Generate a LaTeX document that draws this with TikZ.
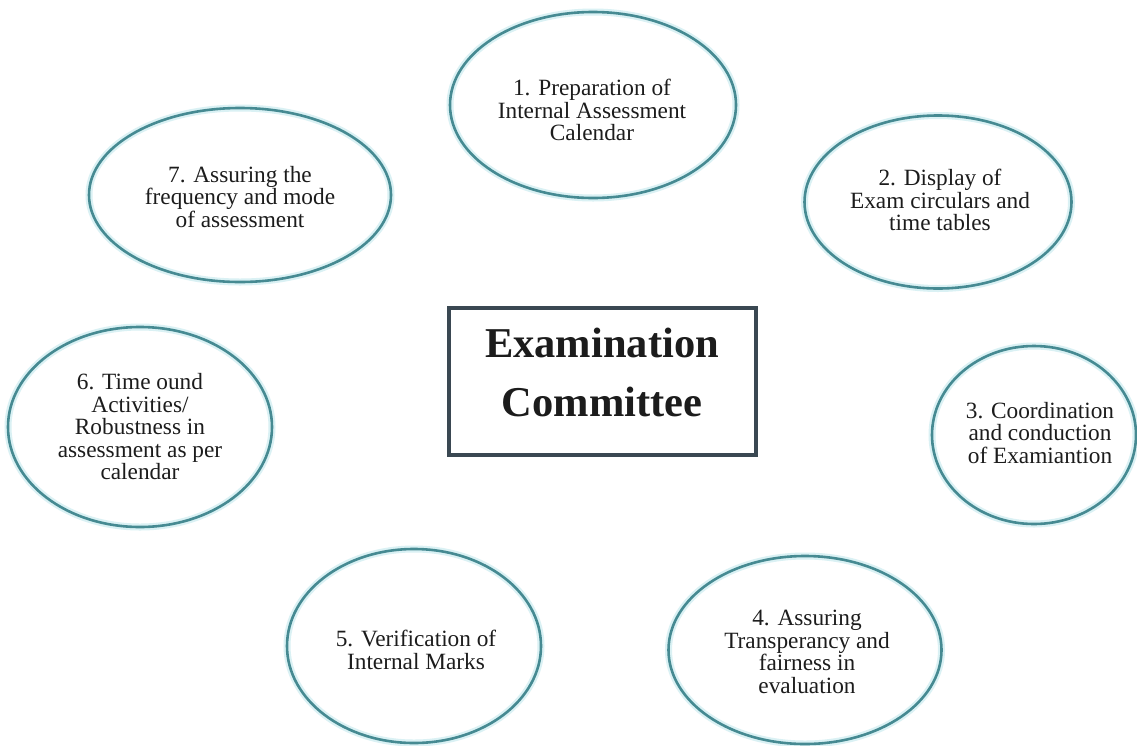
\documentclass[tikz,border=0pt]{standalone}
\usepackage{fontspec}
\setmainfont{Liberation Serif}
\usetikzlibrary{shapes.geometric}
\definecolor{ring}{RGB}{70,138,146}
\definecolor{halo}{RGB}{218,241,244}
\definecolor{boxline}{RGB}{58,72,82}
\definecolor{ink}{RGB}{28,28,28}
\begin{document}
\begin{tikzpicture}[x=1pt,y=-1pt,
  oval/.style={ellipse, draw=ring, line width=2.6pt, inner sep=0pt,
    preaction={draw=halo, line width=7pt}},
  lbl/.style={align=center, text=ink, inner sep=0pt,
    font=\fontsize{23.3}{22.5}\selectfont},
  hubbox/.style={rectangle, draw=boxline, line width=3.5pt, inner sep=0pt},
  hubtext/.style={align=center, text=ink, inner sep=0pt,
    font=\bfseries\fontsize{42.5}{59}\selectfont}]
\useasboundingbox (0,0) rectangle (1137,745);
\fill[white] (0,0) rectangle (1137,745);

% central box
\node[hubbox, minimum width=307pt, minimum height=147pt] (hub) at (602.5,381.5) {};
\node[hubtext] (hubt) at (602,372) {Examination\\Committee};

% ellipses
\node[oval, minimum width=286pt, minimum height=186pt] (e1) at (593,105) {};
\node[oval, minimum width=267pt, minimum height=173pt] (e2) at (938,202) {};
\node[oval, minimum width=204pt, minimum height=178pt] (e3) at (1034,435) {};
\node[oval, minimum width=273pt, minimum height=188pt] (e4) at (805,650) {};
\node[oval, minimum width=254pt, minimum height=194pt] (e5) at (414,646) {};
\node[oval, minimum width=264pt, minimum height=200pt] (e6) at (140,427) {};
\node[oval, minimum width=302pt, minimum height=174pt] (e7) at (240,195) {};

% labels
\node[lbl] (t1) at (592,110) {1. Preparation of\\Internal Assessment\\Calendar};
\node[lbl] (t2) at (940,200) {2. Display of\\Exam circulars and\\time tables};
\node[lbl] (t3) at (1040,433) {3. Coordination\\and conduction\\of Examiantion};
\node[lbl] (t4) at (807,652) {4. Assuring\\Transperancy and\\fairness in\\evaluation};
\node[lbl] (t5) at (416,650) {5. Verification of\\Internal Marks};
\node[lbl] (t6) at (140,427) {6. Time ound\\Activities/\\Robustness in\\assessment as per\\calendar};
\node[lbl] (t7) at (240,197) {7. Assuring the\\frequency and mode\\of assessment};
\end{tikzpicture}
\end{document}
